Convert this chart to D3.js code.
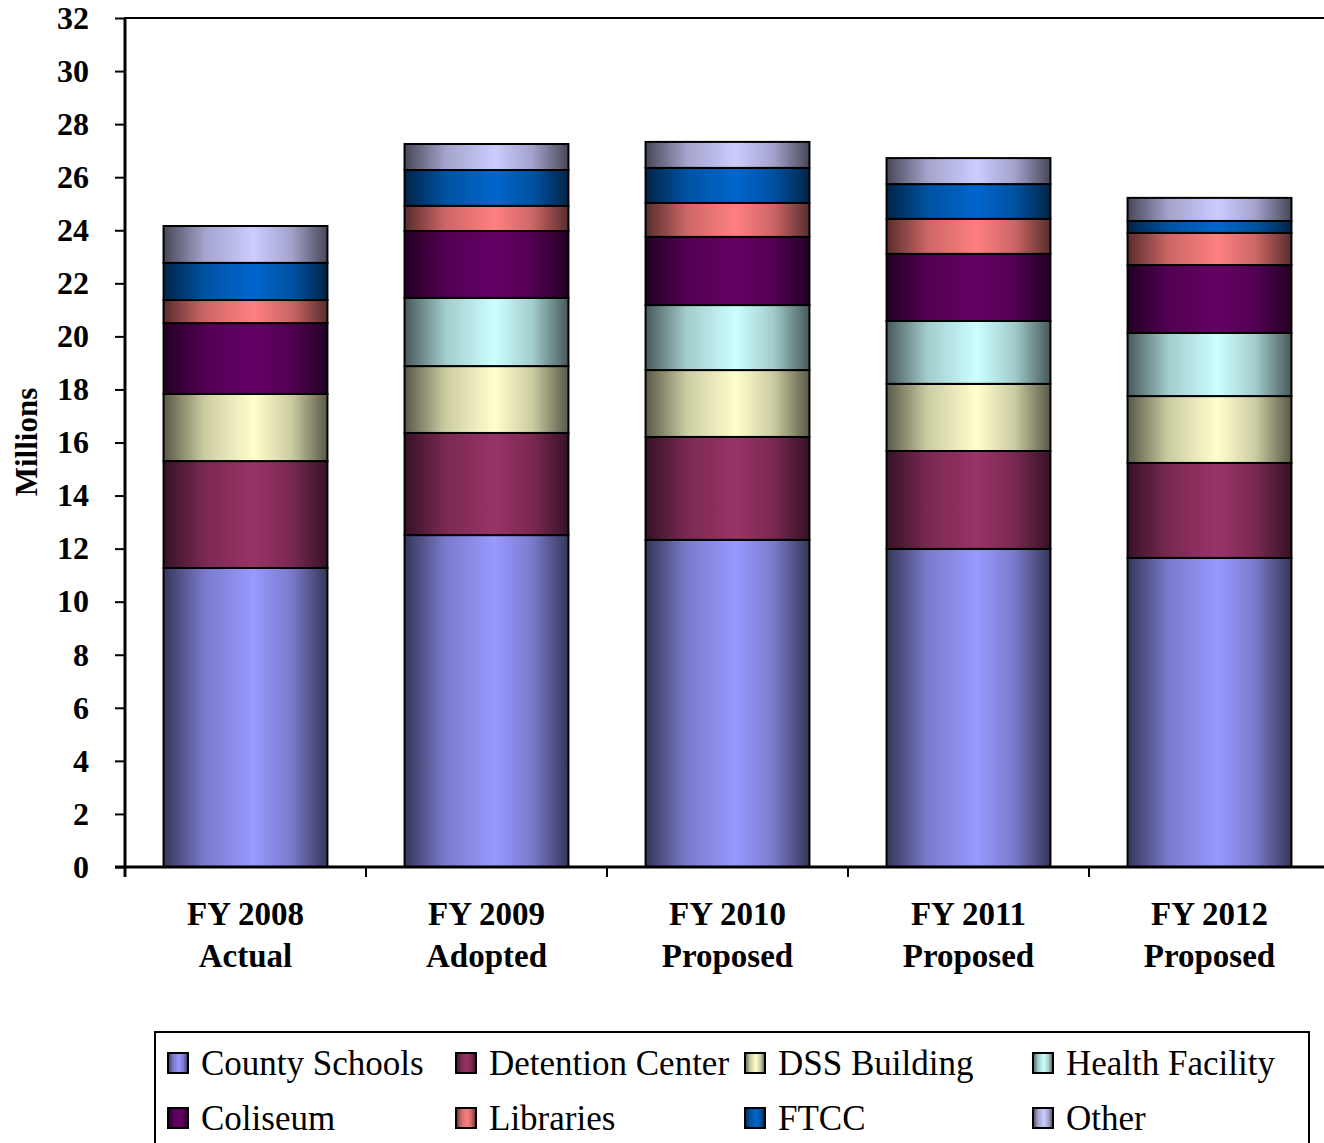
<!DOCTYPE html>
<html>
<head>
<meta charset="utf-8">
<script src="https://cdn.jsdelivr.net/npm/d3@7"></script>
<style>
  body { margin: 0; background: #fff; }
  svg { display: block; }
</style>
</head>
<body>
<div id="chart"></div>
<script>
// categories (two-line labels)
var categories = ["FY 2008|Actual", "FY 2009|Adopted", "FY 2010|Proposed", "FY 2011|Proposed", "FY 2012|Proposed"];
var seriesNames = ["County Schools", "Detention Center", "DSS Building", "Health Facility", "Coliseum", "Libraries", "FTCC", "Other"];
var seriesColors = ["#9999FF", "#993366", "#FFFFCC", "#CCFFFF", "#660066", "#FF8080", "#0066CC", "#CCCCFF"];

// values in millions, one array per series, in category order
var countySchools   = [11.27, 12.51, 12.33, 11.99, 11.65];
var detentionCenter = [4.03, 3.85, 3.88, 3.69, 3.58];
var dssBuilding     = [2.53, 2.52, 2.52, 2.53, 2.52];
var healthFacility  = [0, 2.57, 2.45, 2.37, 2.38];
var coliseum        = [2.67, 2.52, 2.57, 2.53, 2.56];
var libraries       = [0.87, 0.95, 1.28, 1.32, 1.21];
var ftcc            = [1.40, 1.35, 1.32, 1.31, 0.45];
var other           = [1.39, 0.98, 0.98, 0.98, 0.87];
var yTicks = d3.range(0, 33, 2);

var seriesValues = [countySchools, detentionCenter, dssBuilding, healthFacility, coliseum, libraries, ftcc, other];

var width = 1324, height = 1143;
var plot = {left: 125, top: 18, right: 1330, bottom: 867};
var serif = "Liberation Serif, Times New Roman, serif";

var svg = d3.select("#chart").append("svg")
    .attr("width", width).attr("height", height);

var rows = categories.map(function(c, i) {
    var r = {cat: c};
    seriesNames.forEach(function(s, j) { r[s] = seriesValues[j][i]; });
    return r;
});
var stacked = d3.stack().keys(seriesNames)(rows);

var x = d3.scaleBand().domain(categories).range([plot.left, plot.right]).paddingInner(0.32).paddingOuter(0.16);
var xOuter = d3.scaleBand().domain(categories).range([plot.left, plot.right]);
var y = d3.scaleLinear().domain([0, 32]).range([plot.bottom, plot.top]);

// horizontal shading gradients, dark at edges, light near the middle
var defs = svg.append("defs");
seriesColors.forEach(function(c, i) {
    var dark = d3.interpolateRgb("#000", c)(0.35);
    var mid = d3.interpolateRgb("#000", c)(0.8);
    var g = defs.append("linearGradient").attr("id", "grad" + i)
        .attr("x1", 0).attr("x2", 1).attr("y1", 0).attr("y2", 0);
    g.append("stop").attr("offset", "0%").attr("stop-color", dark);
    g.append("stop").attr("offset", "25%").attr("stop-color", mid);
    g.append("stop").attr("offset", "55%").attr("stop-color", c);
    g.append("stop").attr("offset", "78%").attr("stop-color", mid);
    g.append("stop").attr("offset", "100%").attr("stop-color", dark);
});

// plot frame
svg.append("rect")
    .attr("x", plot.left).attr("y", plot.top)
    .attr("width", plot.right - plot.left).attr("height", plot.bottom - plot.top)
    .attr("fill", "none").attr("stroke", "#000").attr("stroke-width", 2);

// bars
svg.selectAll("g.series").data(stacked).enter().append("g")
    .attr("class", "series")
    .attr("fill", function(d, i) { return "url(#grad" + i + ")"; })
    .selectAll("rect").data(function(d) { return d.filter(function(p) { return p[1] - p[0] > 0; }); })
    .enter().append("rect")
    .attr("x", function(d) { return x(d.data.cat); })
    .attr("width", x.bandwidth())
    .attr("y", function(d) { return y(d[1]); })
    .attr("height", function(d) { return y(d[0]) - y(d[1]); })
    .attr("stroke", "#000").attr("stroke-width", 2);

// y axis
var yAxis = svg.append("g").attr("transform", "translate(" + plot.left + ",0)")
    .call(d3.axisLeft(y).tickValues(yTicks).tickSize(10).tickPadding(26));
yAxis.select(".domain").attr("stroke-width", 3).attr("d", "M0," + (plot.top) + "V" + (plot.bottom + 10));
yAxis.selectAll(".tick line").attr("stroke-width", 2);
yAxis.selectAll("text")
    .attr("font-family", serif)
    .attr("font-weight", "bold").attr("font-size", 32).attr("fill", "#000");

// x axis line and ticks at category boundaries
svg.append("line").attr("x1", plot.left - 10).attr("x2", plot.right)
    .attr("y1", plot.bottom).attr("y2", plot.bottom)
    .attr("stroke", "#000").attr("stroke-width", 3);
var bounds = categories.map(function(c) { return xOuter(c); });
svg.selectAll("line.xtick").data(bounds).enter().append("line")
    .attr("class", "xtick")
    .attr("x1", function(d) { return d; }).attr("x2", function(d) { return d; })
    .attr("y1", plot.bottom).attr("y2", plot.bottom + 10)
    .attr("stroke", "#000").attr("stroke-width", 2);

var xl = svg.selectAll("text.xlab").data(categories).enter().append("text")
    .attr("class", "xlab")
    .attr("text-anchor", "middle")
    .attr("font-family", serif)
    .attr("font-weight", "bold").attr("font-size", 33);
xl.append("tspan")
    .attr("x", function(d) { return xOuter(d) + xOuter.bandwidth() / 2; })
    .attr("y", 925)
    .text(function(d) { return d.split("|")[0]; });
xl.append("tspan")
    .attr("x", function(d) { return xOuter(d) + xOuter.bandwidth() / 2; })
    .attr("y", 967)
    .text(function(d) { return d.split("|")[1]; });

// y axis title
svg.append("text")
    .attr("transform", "translate(37,442) rotate(-90)")
    .attr("text-anchor", "middle")
    .attr("font-family", serif)
    .attr("font-weight", "bold").attr("font-size", 31)
    .text("Millions");

// legend
var legend = svg.append("g");
legend.append("rect")
    .attr("x", 155).attr("y", 1032).attr("width", 1154).attr("height", 130)
    .attr("fill", "#fff").attr("stroke", "#000").attr("stroke-width", 2);
var colX = [168, 456, 745, 1033];
var rowY = [1063, 1118];
var items = legend.selectAll("g.item").data(seriesNames).enter().append("g")
    .attr("class", "item")
    .attr("transform", function(d, i) { return "translate(" + colX[i % 4] + "," + rowY[Math.floor(i / 4)] + ")"; });
items.append("rect")
    .attr("x", 0).attr("y", -10).attr("width", 20).attr("height", 20)
    .attr("fill", function(d, i) { return "url(#grad" + i + ")"; })
    .attr("stroke", "#000").attr("stroke-width", 2);
items.append("text")
    .attr("x", 33).attr("y", 12)
    .attr("font-family", serif)
    .attr("font-size", 35)
    .text(function(d) { return d; });
</script>
</body>
</html>
